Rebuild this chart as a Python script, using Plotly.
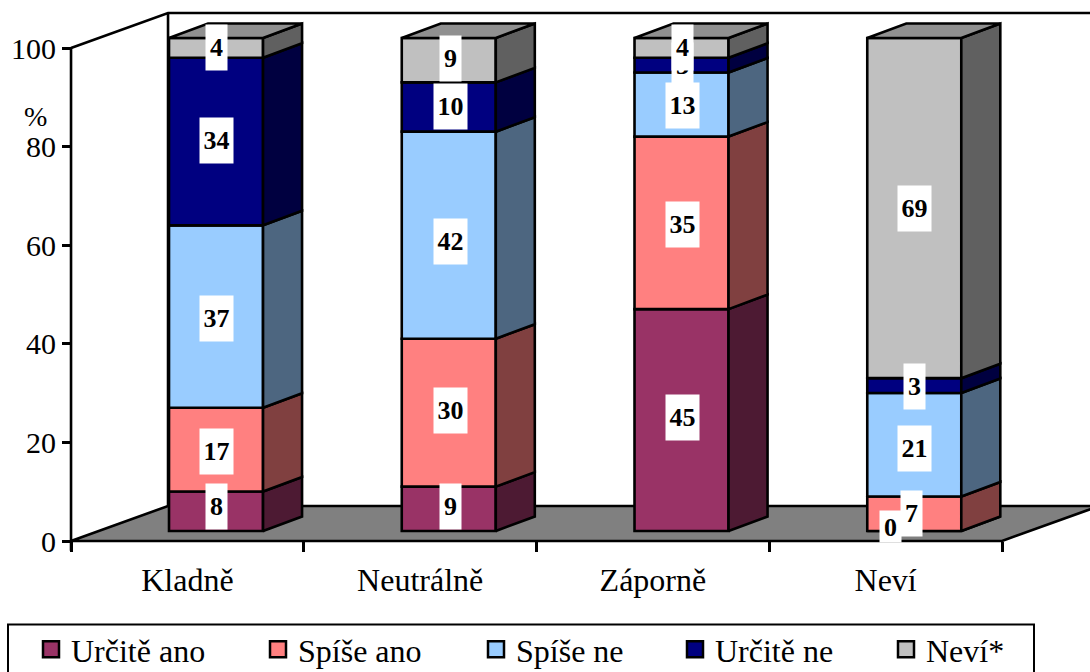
import plotly.graph_objects as go

categories = ["Kladně", "Neutrálně", "Záporně", "Neví"]
urcite_ano = [8, 9, 45, 0]
spise_ano = [17, 30, 35, 7]
spise_ne = [37, 42, 13, 21]
urcite_ne = [34, 10, 3, 3]
nevi = [4, 9, 4, 69]
series_names = ["Určitě ano", "Spíše ano", "Spíše ne", "Určitě ne", "Neví*"]
series_values = [urcite_ano, spise_ano, spise_ne, urcite_ne, nevi]
front_colors = ["#993366", "#FF8080", "#99CCFF", "#000080", "#C0C0C0"]
side_colors = ["#4D1A33", "#804040", "#4D6680", "#000040", "#606060"]
top_color = "#909090"
floor_color = "#808080"

W, H = 1090, 672
FONT = "Liberation Serif"
# pixel calibration of the axes
X0, XU = 187.4, 232.75   # pixel of category 0, pixels per category
Y0, YU = 541.0, 4.93     # pixel of value 0, pixels per percent
BAR_OFF, BAR_W = 0.123, 0.404
BASE = 2.03              # front face stands in front of the axis plane
DX, DY = 0.1676, 2.94    # bar depth
FX, FY = 0.4168, 7.1     # floor depth
LW = 2.6
# nudges of the data labels in pixels: per category (x), per series and category (y, + is down)
LABEL_DX = [0, 2, 1, 0]
LABEL_DY = [[-5, -2, -3, -5], [2, -2, 2, 0], [2, 6, 1, 4], [-1, -1, 0, 1], [0, -2, 0, 0]]


def vx(px):
    return (px - X0) / XU


def vy(py):
    return (Y0 - py) / YU


def pap_x(x):
    return (X0 + XU * x) / W


def pap_y(v):
    return 1 - (Y0 - YU * v) / H


fig = go.Figure()
xc = list(range(len(categories)))
xb = [i + BAR_OFF for i in xc]

cum = [BASE] * len(categories)
annotations = []
for s, (name, vals, fc, sc) in enumerate(zip(series_names, series_values, front_colors, side_colors)):
    fig.add_trace(go.Bar(x=xb, y=vals, base=cum, width=BAR_W, cliponaxis=False,
                         marker=dict(color=fc, line=dict(color="black", width=LW)),
                         showlegend=False, hoverinfo="skip"))
    sx, sy = [], []
    for i, v in enumerate(vals):
        r = xb[i] + BAR_W / 2
        lo, hi = cum[i], cum[i] + v
        sx += [r, r + DX, r + DX, r, r, None]
        sy += [lo, lo + DY, hi + DY, hi, lo, None]
        dx_px, dy_px, h = LABEL_DX[i], LABEL_DY[s][i], 45
        if v == 0:
            dx_px, dy_px, h = -24, -4, 31
        elif categories[i] == "Neví" and v == 7:
            dx_px = -3
        annotations.append(dict(x=xb[i], y=(lo + hi) / 2, xref="x", yref="y", text=f"<b>{v}</b>",
                                showarrow=False, bgcolor="white", borderpad=0,
                                width=33 if v >= 10 else 21, height=h,
                                valign="bottom" if v == 0 else "middle",
                                xshift=dx_px, yshift=-dy_px,
                                font=dict(family=FONT, size=26, color="black")))
    fig.add_trace(go.Scatter(x=sx, y=sy, mode="lines", fill="toself", fillcolor=sc,
                             line=dict(color="black", width=LW), showlegend=False, hoverinfo="skip"))
    cum = [c + v for c, v in zip(cum, vals)]

tx, ty = [], []
for i in xc:
    l, r = xb[i] - BAR_W / 2, xb[i] + BAR_W / 2
    t = cum[i]
    tx += [l, l + DX, r + DX, r, l, None]
    ty += [t, t + DY, t + DY, t, t, None]
fig.add_trace(go.Scatter(x=tx, y=ty, mode="lines", fill="toself", fillcolor=top_color,
                         line=dict(color="black", width=LW), showlegend=False, hoverinfo="skip"))

# legend: one legend per entry so the entries sit at their own positions
legend_px = [31, 258, 476, 675, 886]
legend_layout = {}
for k, (name, fc, lx) in enumerate(zip(series_names, front_colors, legend_px)):
    key = "legend" if k == 0 else f"legend{k + 1}"
    fig.add_trace(go.Scatter(x=[None], y=[None], mode="markers", name=name, legend=key, showlegend=True,
                             marker=dict(symbol="square", size=16, color=fc, line=dict(color="black", width=2.5))))
    legend_layout[key] = dict(x=lx / W, y=1 - 622 / H, xanchor="left", yanchor="top",
                              bgcolor="rgba(0,0,0,0)", itemsizing="trace",
                              font=dict(family=FONT, size=32, color="black"))

line = dict(color="black", width=LW)
xr, xl = vx(W + 5), -0.5
shapes = [
    # floor
    dict(type="path", layer="below", xref="paper", yref="paper", fillcolor=floor_color, line=line,
         path=f"M {pap_x(xl)} {pap_y(0)} L {pap_x(xl + FX)} {pap_y(FY)} L {pap_x(xr)} {pap_y(FY)} "
              f"L {pap_x(xr)} {pap_y(FY * (xr - 3.5) / FX)} L {pap_x(3.5)} {pap_y(0)} Z"),
    # walls
    dict(type="path", layer="below", xref="paper", yref="paper", line=line,
         path=f"M {pap_x(xl)} {pap_y(100)} L {pap_x(xl + FX)} {pap_y(100 + FY)} L {pap_x(xr)} {pap_y(100 + FY)}"),
    dict(type="line", layer="below", xref="paper", yref="paper", line=line,
         x0=pap_x(xl + FX), x1=pap_x(xl + FX), y0=pap_y(FY), y1=pap_y(100 + FY)),
    # value axis line
    dict(type="line", xref="paper", yref="paper", line=line,
         x0=pap_x(xl), x1=pap_x(xl), y0=pap_y(-2), y1=pap_y(100)),
    # legend frame
    dict(type="rect", xref="paper", yref="paper", line=dict(color="black", width=2),
         x0=8 / W, x1=1034 / W, y0=-0.02, y1=1 - 624.5 / H),
]
annotations.append(dict(x=35 / W, y=1 - 116 / H, xref="paper", yref="paper", text="%", showarrow=False,
                        xanchor="center", yanchor="middle",
                        font=dict(family=FONT, size=28, color="black")))

fig.update_layout(
    width=W, height=H, margin=dict(l=0, r=0, t=0, b=0, pad=0, autoexpand=False),
    paper_bgcolor="white", plot_bgcolor="rgba(0,0,0,0)",
    barmode="overlay", shapes=shapes, annotations=annotations, hovermode=False,
    xaxis=dict(domain=[0, 1], range=[vx(0), vx(W)], anchor="free", position=pap_y(0),
               tickmode="array", tickvals=xc, ticktext=categories, ticks="outside", ticklen=11,
               tickcolor="rgba(0,0,0,0)", showgrid=False, zeroline=False, showline=False,
               tickfont=dict(family=FONT, size=32, color="black"),
               minor=dict(tickmode="array", tickvals=[-0.5, 0.5, 1.5, 2.5, 3.5], ticks="outside",
                          ticklen=10, tickwidth=2.5, tickcolor="black", showgrid=False)),
    yaxis=dict(domain=[0, 1], range=[vy(H), vy(0)], anchor="free", position=pap_x(-0.5),
               tickmode="array", tickvals=[0, 20, 40, 60, 80, 100], ticks="outside", ticklen=9,
               tickwidth=2.5, tickcolor="black", showgrid=False, zeroline=False, showline=False,
               tickfont=dict(family=FONT, size=30, color="black")),
    **legend_layout,
)
fig.write_html("out.html", post_script="document.body.style.margin='0';",
               config=dict(displayModeBar=False))
